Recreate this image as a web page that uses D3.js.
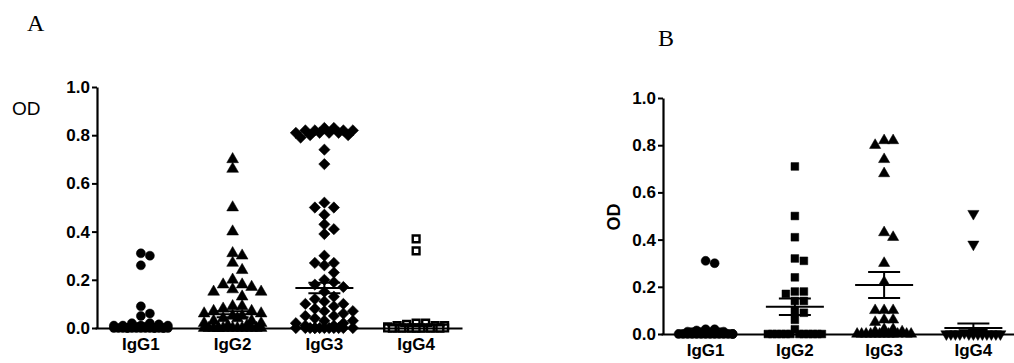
<!DOCTYPE html>
<html>
<head>
<meta charset="utf-8">
<script src="https://cdn.jsdelivr.net/npm/d3@7"></script>
<style>
  body { margin: 0; background: #fff; }
  svg { display: block; }
  .tick text { font-family: "Liberation Sans", Arial, sans-serif; font-weight: bold; }
</style>
</head>
<body>
<div id="chart"></div>
<script>
// categories and tick values
const categories = ['IgG1', 'IgG2', 'IgG3', 'IgG4'];
const yTicks = [0, 0.2, 0.4, 0.6, 0.8, 1.0];

// Panel A values (OD)
const aIgG1 = [0.31, 0.30, 0.26, 0.09, 0.06, 0.05, 0.02, 0.02, 0.015, 0.01, 0.01, 0.01, 0.01, 0.005, 0.005,
  0, 0, 0, 0, 0, 0, 0, 0, 0, 0, 0, 0, 0, 0, 0, 0];
const aIgG2 = [0.70, 0.66, 0.50, 0.40, 0.31, 0.30, 0.27, 0.24, 0.20, 0.18, 0.18, 0.17, 0.16, 0.15, 0.15, 0.13,
  0.09, 0.09, 0.08, 0.07, 0.07, 0.06, 0.06, 0.05, 0.05, 0.04, 0.04, 0.03, 0.03, 0.02, 0.02, 0.01, 0.01,
  0, 0, 0, 0, 0, 0, 0, 0, 0, 0, 0, 0, 0, 0];
const aIgG3 = [0.82, 0.81, 0.83, 0.81, 0.82, 0.80, 0.81, 0.82, 0.83, 0.80, 0.81, 0.79, 0.82, 0.74, 0.68,
  0.50, 0.52, 0.50, 0.47, 0.43, 0.41, 0.39,
  0.30, 0.27, 0.27, 0.26, 0.23, 0.20, 0.19, 0.18, 0.17, 0.15, 0.13, 0.12, 0.11, 0.10, 0.10, 0.09, 0.08,
  0.07, 0.07, 0.06, 0.05, 0.05, 0.04, 0.03, 0.03, 0.02, 0.02, 0.01, 0.01,
  0, 0, 0, 0, 0, 0, 0, 0, 0, 0, 0, 0];
const aIgG4 = [0.37, 0.32, 0.02, 0.02, 0.015, 0.01, 0.01, 0.01, 0.005,
  0, 0, 0, 0, 0, 0, 0, 0, 0, 0, 0, 0, 0, 0, 0, 0, 0, 0, 0, 0];
const aMean = [0.012, 0.057, 0.166, 0.01];
const aSem = [0.004, 0.012, 0.022, 0.003];

// Panel B values (OD)
const bIgG1 = [0.31, 0.30, 0.02, 0.02, 0.015, 0.01, 0.01,
  0, 0, 0, 0, 0, 0, 0, 0, 0, 0, 0, 0, 0, 0];
const bIgG2 = [0.71, 0.50, 0.41, 0.32, 0.31, 0.24, 0.18, 0.18, 0.17, 0.14, 0.14, 0.10, 0.09, 0.06, 0.02,
  0, 0, 0, 0, 0, 0, 0, 0, 0, 0, 0, 0];
const bIgG3 = [0.82, 0.80, 0.82, 0.74, 0.68, 0.43, 0.41, 0.30, 0.22, 0.10, 0.10, 0.10, 0.06, 0.06, 0.05,
  0.02, 0.02, 0.01, 0.01,
  0, 0, 0, 0, 0, 0, 0, 0, 0, 0, 0, 0];
const bIgG4 = [0.51, 0.38, 0.01, 0.01, 0.005,
  0, 0, 0, 0, 0, 0, 0, 0, 0, 0, 0, 0];
const bMean = [0.015, 0.115, 0.208, 0.025];
const bSem = [0.008, 0.035, 0.055, 0.02];

const W = 1014, H = 363;
const svg = d3.select('#chart').append('svg')
  .attr('width', W)
  .attr('height', H);

// simple beeswarm: similar values go side by side, dense groups fill the gaps and overlap
function swarm(values, y, step, maxSteps) {
  const placed = [];
  const order = values.map((v, i) => i).sort((a, b) => values[b] - values[a]);
  const offsets = [0];
  for (let k = 1; k <= maxSteps; k++) offsets.push(k * step, -k * step);
  const halfs = [];
  for (let k = 0; k < maxSteps; k++) halfs.push((k + 0.5) * step, -(k + 0.5) * step);
  const fill = halfs.concat(offsets);
  const out = new Array(values.length);
  let overflow = 0;
  order.forEach(i => {
    const py = y(values[i]);
    const free = dx => placed.every(p => Math.abs(p.y - py) >= step || Math.abs(p.x - dx) >= step * 0.95);
    let dx = offsets.find(free);
    if (dx === undefined) {
      dx = fill[overflow % fill.length];
      overflow++;
    }
    placed.push({ x: dx, y: py });
    out[i] = { v: values[i], dx: dx };
  });
  return out;
}

function drawPanel(cfg) {
  const g = svg.append('g');

  const x = d3.scaleBand()
    .domain(categories)
    .range(cfg.xRange);

  const y = d3.scaleLinear()
    .domain([0, 1])
    .range(cfg.yRange);

  // points
  cfg.series.forEach((vals, i) => {
    const sym = cfg.symbols[i];
    const cx = x(categories[i]) + x.bandwidth() / 2;
    const pts = swarm(vals, y, sym.step, 3);
    g.selectAll('.pt' + i)
      .data(pts)
      .enter().append('path')
      .attr('class', 'pt' + i)
      .attr('d', d3.symbol().type(sym.type).size(sym.size))
      .attr('transform', d => `translate(${cx + d.dx},${y(d.v)}) rotate(${sym.rotate || 0})`)
      .attr('fill', sym.open ? '#fff' : '#000')
      .attr('stroke', '#000')
      .attr('stroke-width', sym.open ? 2.4 : 0.5);
  });

  // mean and SEM lines
  cfg.mean.forEach((m, i) => {
    const cx = x(categories[i]) + x.bandwidth() / 2;
    const s = cfg.sem[i];
    g.append('line')
      .attr('x1', cx - 29).attr('x2', cx + 29)
      .attr('y1', y(m)).attr('y2', y(m))
      .attr('stroke', '#000').attr('stroke-width', 2);
    [m - s, m + s].forEach(v => {
      g.append('line')
        .attr('x1', cx - 16).attr('x2', cx + 16)
        .attr('y1', y(v)).attr('y2', y(v))
        .attr('stroke', '#000').attr('stroke-width', 2);
    });
    g.append('line')
      .attr('x1', cx).attr('x2', cx)
      .attr('y1', y(m - s)).attr('y2', y(m + s))
      .attr('stroke', '#000').attr('stroke-width', 2);
  });

  // X axis
  const xAxisGroup = g.append('g')
    .attr('transform', `translate(0,${y(0)})`)
    .call(d3.axisBottom(x).tickSize(0).tickPadding(10));
  xAxisGroup.select('.domain').attr('stroke-width', 2.2);
  xAxisGroup.selectAll('text')
    .style('font-size', '17px')
    .attr('fill', '#000');

  // Y axis
  const yAxisGroup = g.append('g')
    .attr('transform', `translate(${cfg.yAxisX},0)`)
    .call(d3.axisLeft(y).tickValues(yTicks).tickFormat(d3.format('.1f')).tickSize(5).tickSizeOuter(0).tickPadding(2));
  yAxisGroup.select('.domain').attr('stroke-width', 2.2);
  yAxisGroup.selectAll('.tick line').attr('stroke-width', 2);
  yAxisGroup.selectAll('text')
    .style('font-size', '17px')
    .attr('fill', '#000');

  // Y-axis label
  const od = svg.append('text')
    .style('font-family', '"Liberation Sans", Arial, sans-serif')
    .attr('fill', '#000')
    .text('OD');
  if (cfg.rotateLabel) {
    od.attr('transform', `translate(${cfg.odPos[0]},${cfg.odPos[1]}) rotate(-90)`)
      .attr('text-anchor', 'middle')
      .style('font-weight', 'bold')
      .style('font-size', '18px');
  } else {
    od.attr('x', cfg.odPos[0]).attr('y', cfg.odPos[1])
      .style('font-size', '19px');
  }

  // panel letter
  svg.append('text')
    .attr('x', cfg.letterPos[0])
    .attr('y', cfg.letterPos[1])
    .style('font-family', '"Liberation Serif", "Times New Roman", serif')
    .style('font-size', '24px')
    .attr('fill', '#000')
    .text(cfg.letter);
}

const circle = { type: d3.symbolCircle, size: 64, step: 9 };
const triUp = { type: d3.symbolTriangle, size: 60, step: 9.5 };
const diamond = { type: d3.symbolSquare, size: 64, step: 9.5, rotate: 45 };
const openSq = { type: d3.symbolSquare, size: 46, step: 9.5, open: true };
const square = { type: d3.symbolSquare, size: 60, step: 9 };
const triUpB = { type: d3.symbolTriangle, size: 54, step: 9 };
const triDown = { type: d3.symbolTriangle, size: 54, step: 9, rotate: 180 };

drawPanel({
  letter: 'A', letterPos: [27, 31],
  odPos: [12, 115], rotateLabel: false,
  xRange: [95, 462], yRange: [328, 87], yAxisX: 97,
  series: [aIgG1, aIgG2, aIgG3, aIgG4],
  symbols: [circle, triUp, diamond, openSq],
  mean: aMean, sem: aSem
});

drawPanel({
  letter: 'B', letterPos: [658, 46],
  odPos: [620, 217], rotateLabel: true,
  xRange: [661, 1018], yRange: [334, 98], yAxisX: 663,
  series: [bIgG1, bIgG2, bIgG3, bIgG4],
  symbols: [circle, square, triUpB, triDown],
  mean: bMean, sem: bSem
});
</script>
</body>
</html>
